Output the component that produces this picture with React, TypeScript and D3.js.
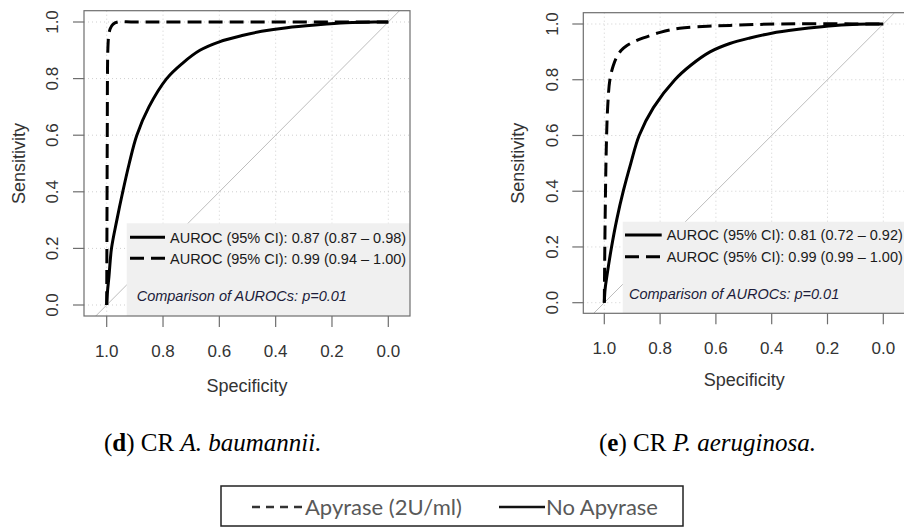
import React from "react";
import * as d3 from "d3";

// ---------- data ----------
const specTicks = [1.0, 0.8, 0.6, 0.4, 0.2, 0.0];
const sensTicks = [0.0, 0.2, 0.4, 0.6, 0.8, 1.0];
const tickLabels = ["1.0", "0.8", "0.6", "0.4", "0.2", "0.0"];
const sensTickLabels = ["0.0", "0.2", "0.4", "0.6", "0.8", "1.0"];

// Panel d: CR A. baumannii
const dNoApySpec = [1.0, 0.997, 0.992, 0.983, 0.964, 0.943, 0.92, 0.893, 0.85, 0.787, 0.73, 0.669, 0.6, 0.515, 0.45, 0.36, 0.25, 0.15, 0.05, 0.0];
const dNoApySens = [0.0, 0.05, 0.1, 0.2, 0.3, 0.4, 0.5, 0.6, 0.7, 0.8, 0.855, 0.9, 0.93, 0.953, 0.967, 0.98, 0.99, 0.997, 1.0, 1.0];
const dApySpec = [1.0, 0.999, 0.998, 0.996, 0.993, 0.988, 0.978, 0.96, 0.9, 0.0];
const dApySens = [0.0, 0.3, 0.6, 0.9, 0.95, 0.975, 0.992, 1.0, 1.0, 1.0];

// Panel e: CR P. aeruginosa
const eNoApySpec = [1.0, 0.997, 0.99, 0.974, 0.955, 0.932, 0.905, 0.875, 0.824, 0.747, 0.69, 0.621, 0.55, 0.478, 0.4, 0.311, 0.22, 0.131, 0.05, 0.0];
const eNoApySens = [0.0, 0.05, 0.1, 0.2, 0.3, 0.4, 0.5, 0.6, 0.7, 0.8, 0.852, 0.9, 0.93, 0.95, 0.967, 0.98, 0.99, 0.997, 1.0, 1.0];
const eApySpec = [1.0, 0.997, 0.993, 0.988, 0.98, 0.968, 0.956, 0.94, 0.92, 0.89, 0.86, 0.8, 0.73, 0.63, 0.55, 0.37, 0.0];
const eApySens = [0.0, 0.3, 0.55, 0.7, 0.8, 0.85, 0.88, 0.905, 0.922, 0.938, 0.95, 0.97, 0.985, 0.992, 0.995, 1.0, 1.0];

const dLegend = ["AUROC (95% CI): 0.87 (0.87 \u2013 0.98)", "AUROC (95% CI): 0.99 (0.94 \u2013 1.00)"];
const eLegend = ["AUROC (95% CI): 0.81 (0.72 \u2013 0.92)", "AUROC (95% CI): 0.99 (0.99 \u2013 1.00)"];
const comparisonText = "Comparison of AUROCs: p=0.01";
const xAxisTitle = "Specificity";
const yAxisTitle = "Sensitivity";
const seriesNames = ["Apyrase (2U/ml)", "No Apyrase"];

// ---------- layout ----------
const W = 904;
const H = 528;

type Layout = {
  id: string;
  box: [number, number, number, number];
  xr: [number, number];
  yr: [number, number];
  yTickLabelX: number;
  yLabelX: number;
  xTickLabelY: number;
  xLabelY: number;
  lg: { x0: number; y0: number; lx0: number; lx1: number; tx: number; r1: number; r2: number; cx: number; cy: number };
};

const layouts: Layout[] = [
  {
    id: "d",
    box: [84, 10.7, 410, 316],
    xr: [106.7, 388.3],
    yr: [305, 22],
    yTickLabelX: 52,
    yLabelX: 18,
    xTickLabelY: 351,
    xLabelY: 385,
    lg: { x0: 126.7, y0: 223.3, lx0: 130, lx1: 165, tx: 170, r1: 237.3, r2: 258.3, cx: 136.7, cy: 296 },
  },
  {
    id: "e",
    box: [583.3, 12.7, 905, 313.3],
    xr: [604.3, 883.3],
    yr: [302.7, 24],
    yTickLabelX: 552,
    yLabelX: 517,
    xTickLabelY: 348,
    xLabelY: 379,
    lg: { x0: 622.7, y0: 221.7, lx0: 625, lx1: 661.7, tx: 666.7, r1: 235, r2: 256.7, cx: 629, cy: 293.3 },
  },
];

const panelsData = [
  { noSpec: dNoApySpec, noSens: dNoApySens, apSpec: dApySpec, apSens: dApySens, legend: dLegend },
  { noSpec: eNoApySpec, noSens: eNoApySens, apSpec: eApySpec, apSens: eApySens, legend: eLegend },
];

const DASH = "14,7";
const FONT = "Arial, Liberation Sans, Helvetica, sans-serif";

function Panel({ L, data }: { L: Layout; data: (typeof panelsData)[0] }) {
  const x = d3.scaleLinear().domain([1, 0]).range(L.xr);
  const y = d3.scaleLinear().domain([0, 1]).range(L.yr);
  const [bx0, by0, bx1, by1] = L.box;
  const line = d3
    .line<[number, number]>()
    .x((d) => x(d[0]))
    .y((d) => y(d[1]))
    .curve(d3.curveCatmullRom.alpha(0.5));
  const noPts = data.noSpec.map((s, i) => [s, data.noSens[i]] as [number, number]);
  const apPts = data.apSpec.map((s, i) => [s, data.apSens[i]] as [number, number]);
  const sLow = y.invert(by1);
  const sHigh = y.invert(by0);
  const diag: [number, number][] = [
    [1 - sLow, sLow],
    [1 - sHigh, sHigh],
  ];
  const clipId = "clip-" + L.id;
  const lg = L.lg;
  return (
    <g>
      <defs>
        <clipPath id={clipId}>
          <rect x={bx0} y={by0} width={bx1 - bx0} height={by1 - by0} />
        </clipPath>
      </defs>
      {/* grid */}
      <g stroke="#cfcfcf" strokeWidth={1} strokeDasharray="1,3">
        {specTicks.map((t) => (
          <line key={"gx" + t} x1={x(t)} x2={x(t)} y1={by0} y2={by1} />
        ))}
        {sensTicks.map((t) => (
          <line key={"gy" + t} x1={bx0} x2={bx1} y1={y(t)} y2={y(t)} />
        ))}
      </g>
      <g clipPath={`url(#${clipId})`}>
        <path d={d3.line()(diag.map((d) => [x(d[0]), y(d[1])]))!} stroke="#bdbdbd" strokeWidth={1} fill="none" />
        <path d={line(noPts)!} stroke="#000" strokeWidth={3} fill="none" />
        <path d={line(apPts)!} stroke="#000" strokeWidth={3} fill="none" strokeDasharray={DASH} />
      </g>
      {/* legend */}
      <rect x={lg.x0} y={lg.y0} width={bx1 - lg.x0} height={by1 - lg.y0} fill="#f0f0f0" />
      <line x1={lg.lx0} x2={lg.lx1} y1={lg.r1} y2={lg.r1} stroke="#000" strokeWidth={3} />
      <line x1={lg.lx0} x2={lg.lx1} y1={lg.r2} y2={lg.r2} stroke="#000" strokeWidth={3} strokeDasharray={DASH} />
      <text x={lg.tx} y={lg.r1 + 5.2} fontSize={14.5} fontFamily={FONT} fill="#1a1a1a">
        {data.legend[0]}
      </text>
      <text x={lg.tx} y={lg.r2 + 5.2} fontSize={14.5} fontFamily={FONT} fill="#1a1a1a">
        {data.legend[1]}
      </text>
      <text x={lg.cx} y={lg.cy + 5.2} fontSize={14.5} fontFamily={FONT} fontStyle="italic" fill="#1c1c3a">
        {comparisonText}
      </text>
      {/* box */}
      <rect x={bx0} y={by0} width={bx1 - bx0} height={by1 - by0} fill="none" stroke="#6e6e6e" strokeWidth={1.2} />
      <g stroke="#6e6e6e" strokeWidth={1.2}>
        {specTicks.map((t) => (
          <line key={"tx" + t} x1={x(t)} x2={x(t)} y1={by1} y2={by1 + 11} />
        ))}
        {sensTicks.map((t) => (
          <line key={"ty" + t} x1={bx0} x2={bx0 - 11} y1={y(t)} y2={y(t)} />
        ))}
      </g>
      {specTicks.map((t, i) => (
        <text key={"lx" + t} x={x(t)} y={L.xTickLabelY + 6} textAnchor="middle" fontSize={17} fontFamily={FONT} fill="#333">
          {tickLabels[i]}
        </text>
      ))}
      {sensTicks.map((t, i) => (
        <text
          key={"ly" + t}
          transform={`translate(${L.yTickLabelX + 6},${y(t)}) rotate(-90)`}
          textAnchor="middle"
          fontSize={17}
          fontFamily={FONT}
          fill="#333"
        >
          {sensTickLabels[i]}
        </text>
      ))}
      <text x={(bx0 + bx1) / 2} y={L.xLabelY + 6.5} textAnchor="middle" fontSize={18} fontFamily={FONT} fill="#333">
        {xAxisTitle}
      </text>
      <text
        transform={`translate(${L.yLabelX + 6.5},${(y(0) + y(1)) / 2}) rotate(-90)`}
        textAnchor="middle"
        fontSize={18}
        fontFamily={FONT}
        fill="#333"
      >
        {yAxisTitle}
      </text>
    </g>
  );
}

export default function App() {
  const SERIF = "Liberation Serif, Times New Roman, serif";
  const LEGF = "Lato, Open Sans, sans-serif";
  return (
    <svg width={W} height={H} style={{ position: "absolute", left: 0, top: 0, background: "#fff" }}>
      <rect x={0} y={0} width={W} height={H} fill="#fff" />
      {layouts.map((L, i) => (
        <Panel key={L.id} L={L} data={panelsData[i]} />
      ))}
      <text x={104} y={451} fontSize={25} fontFamily={SERIF} fill="#000">
        (<tspan fontWeight="bold">d</tspan>) CR <tspan fontStyle="italic">A. baumannii.</tspan>
      </text>
      <text x={599} y={451} fontSize={25} fontFamily={SERIF} fill="#000">
        (<tspan fontWeight="bold">e</tspan>) CR <tspan fontStyle="italic">P. aeruginosa.</tspan>
      </text>
      <rect x={221} y={486} width={462} height={40} fill="#fff" stroke="#222" strokeWidth={1.5} />
      <line x1={252} x2={303} y1={507} y2={507} stroke="#333" strokeWidth={2.5} strokeDasharray="8,6" />
      <text x={305} y={515} fontSize={22} fontFamily={LEGF} fill="#595959">
        {seriesNames[0]}
      </text>
      <line x1={499} x2={545} y1={507} y2={507} stroke="#111" strokeWidth={2.5} />
      <text x={546} y={515} fontSize={22} fontFamily={LEGF} fill="#595959">
        {seriesNames[1]}
      </text>
    </svg>
  );
}
